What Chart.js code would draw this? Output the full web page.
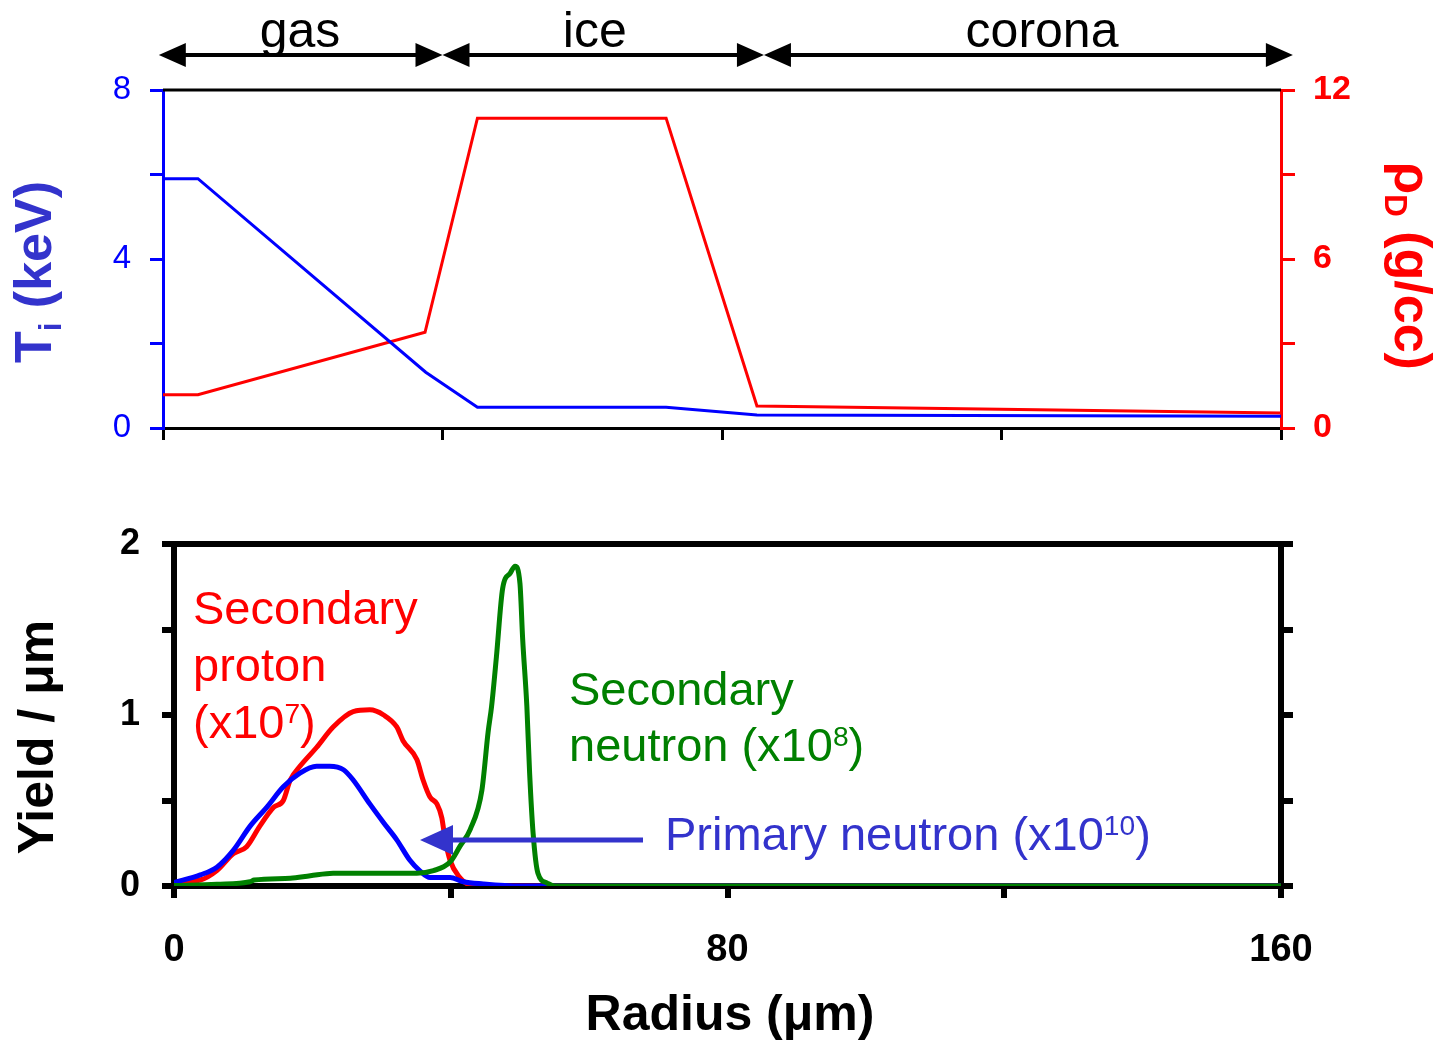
<!DOCTYPE html>
<html>
<head>
<meta charset="utf-8">
<script src="https://cdn.jsdelivr.net/npm/chart.js@4"></script>
<style>
  body { margin: 0; background: #fff; }
  #wrap { position: relative; width: 1435px; height: 1041px; }
  canvas { position: absolute; left: 0; }
</style>
</head>
<body>
<div id="wrap">
  <canvas id="profile" width="1435" height="480" style="top:0"></canvas>
  <canvas id="yield" width="1435" height="561" style="top:480px"></canvas>
</div>
<script>
// ---- top panel: ion temperature and density profiles
const radiusTi = [0, 5, 37.6, 45, 72, 85, 160];
const ionTemp = [5.9, 5.9, 1.32, 0.49, 0.49, 0.31, 0.28];
const radiusRho = [0, 5, 37.5, 45, 72, 85, 160];
const density = [1.18, 1.18, 3.4, 11.0, 11.0, 0.78, 0.53];

// regions shown above the top panel (radius, um)
const regionNames = ["gas", "ice", "corona"];
const regionBounds = [-0.6, 40, 86, 161.7];

// ---- bottom panel: yield per micron
const protonR = [0, 3.8, 6.2, 8.6, 10.5, 12.4, 14.4, 15.8, 16.8, 18.2, 20.6, 23, 25.9, 28.3, 30.3, 32.2, 33.1, 35.1, 36, 37, 38, 38.7, 39.2, 39.9, 41.3, 42.3, 44, 160];
const protonYield = [0.02, 0.035, 0.09, 0.19, 0.23, 0.35, 0.46, 0.5, 0.62, 0.70, 0.81, 0.93, 1.02, 1.03, 1.0, 0.93, 0.85, 0.74, 0.62, 0.52, 0.48, 0.40, 0.27, 0.15, 0.05, 0.015, 0, 0];

const primaryR = [0, 3.8, 6.2, 8.6, 11, 13.4, 15.8, 18.2, 20.6, 22.5, 24.5, 25.9, 28.3, 30.3, 32.2, 34.1, 35.5, 37, 39.9, 41.8, 44.7, 50, 160];
const primaryYield = [0.02, 0.065, 0.11, 0.21, 0.35, 0.46, 0.58, 0.66, 0.70, 0.70, 0.68, 0.62, 0.48, 0.37, 0.27, 0.15, 0.09, 0.05, 0.05, 0.025, 0.012, 0, 0];

const secNeutronR = [0, 6.2, 11, 11.6, 16.8, 19.7, 23, 35.1, 37.5, 39.9, 41.3, 42.8, 44.5, 45.4, 45.9, 46.6, 47.5, 48.6, 49.3, 50, 50.4, 51, 51.4, 51.9, 52.6, 53.9, 55, 160];
const secNeutronYield = [0.003, 0.01, 0.025, 0.035, 0.045, 0.06, 0.075, 0.075, 0.09, 0.14, 0.23, 0.33, 0.56, 0.90, 1.05, 1.34, 1.74, 1.83, 1.87, 1.77, 1.44, 1.05, 0.66, 0.31, 0.075, 0.018, 0, 0];

const FONT = "'Liberation Sans', Arial, sans-serif";
const TEXT_BLUE = "#3333cc";

function pts(xs, ys) {
  return xs.map((x, i) => ({ x: x, y: ys[i] }));
}

// text with sub/superscripts, parts like {t: "10", sup: true}
function richWidth(ctx, parts, size, weight) {
  let w = 0;
  parts.forEach(p => {
    ctx.font = weight + " " + ((p.sup || p.sub) ? size * 0.6 : size) + "px " + FONT;
    w += ctx.measureText(p.t).width;
  });
  return w;
}
function drawRich(ctx, parts, x, y, size, weight, color) {
  ctx.fillStyle = color;
  ctx.textAlign = "left";
  ctx.textBaseline = "alphabetic";
  let cx = x;
  parts.forEach(p => {
    const s = (p.sup || p.sub) ? size * 0.6 : size;
    ctx.font = weight + " " + s + "px " + FONT;
    const dy = p.sup ? -size * 0.32 : (p.sub ? size * 0.2 : 0);
    ctx.fillText(p.t, cx, y + dy);
    cx += ctx.measureText(p.t).width;
  });
}

function arrowHead(ctx, tipX, y, dir, len, half) {
  ctx.beginPath();
  ctx.moveTo(tipX, y);
  ctx.lineTo(tipX + dir * len, y - half);
  ctx.lineTo(tipX + dir * len, y + half);
  ctx.closePath();
  ctx.fill();
}

const profileDecor = {
  id: "profileDecor",
  afterDraw(chart) {
    const ctx = chart.ctx;
    const a = chart.chartArea;
    const xs = chart.scales.x;
    ctx.save();
    // top frame line
    ctx.strokeStyle = "#000";
    ctx.lineWidth = 3;
    ctx.beginPath();
    ctx.moveTo(a.left, a.top);
    ctx.lineTo(a.right, a.top);
    ctx.stroke();

    // region arrows
    const ay = 55;
    ctx.fillStyle = "#000";
    ctx.lineWidth = 4;
    for (let i = 0; i < regionNames.length; i++) {
      const x1 = xs.getPixelForValue(regionBounds[i]);
      const x2 = xs.getPixelForValue(regionBounds[i + 1]);
      ctx.beginPath();
      ctx.moveTo(x1 + 20, ay);
      ctx.lineTo(x2 - 20, ay);
      ctx.stroke();
      arrowHead(ctx, x1, ay, 1, 27, 12);
      arrowHead(ctx, x2, ay, -1, 27, 12);
    }
    ctx.font = "50px " + FONT;
    ctx.textAlign = "center";
    ctx.textBaseline = "alphabetic";
    const labelAt = [19.6, 61.8, 125.8];
    regionNames.forEach((n, i) => ctx.fillText(n, xs.getPixelForValue(labelAt[i]), 47));

    // left title: Ti (keV)
    const ti = [{ t: "T" }, { t: "i", sub: true }, { t: " (keV)" }];
    ctx.save();
    ctx.translate(51, 272);
    ctx.rotate(-Math.PI / 2);
    drawRich(ctx, ti, -richWidth(ctx, ti, 52, "bold") / 2, 0, 52, "bold", TEXT_BLUE);
    ctx.restore();

    // right title: rhoD (g/cc)
    const rho = [{ t: "\u03c1" }, { t: "D", sub: true }, { t: " (g/cc)" }];
    ctx.save();
    ctx.translate(1395, 266);
    ctx.rotate(Math.PI / 2);
    drawRich(ctx, rho, -richWidth(ctx, rho, 52, "bold") / 2, 0, 52, "bold", "#ff0000");
    ctx.restore();
    ctx.restore();
  }
};

new Chart(document.getElementById("profile"), {
  type: "line",
  data: {
    datasets: [
      { data: pts(radiusTi, ionTemp), yAxisID: "yL", borderColor: "#0000ff", borderWidth: 3, pointRadius: 0, tension: 0 },
      { data: pts(radiusRho, density), yAxisID: "yR", borderColor: "#ff0000", borderWidth: 3, pointRadius: 0, tension: 0 }
    ]
  },
  options: {
    responsive: false,
    animation: false,
    layout: { padding: { top: 90, left: 0, right: 0, bottom: 22 } },
    plugins: { legend: { display: false }, tooltip: { enabled: false } },
    scales: {
      x: {
        type: "linear", min: 0, max: 160,
        ticks: { stepSize: 40, callback: () => "" },
        grid: { drawOnChartArea: false, color: "#000", lineWidth: 3, tickLength: 12 },
        border: { color: "#000", width: 3 },
        afterFit: s => { s.height = 30; }
      },
      yL: {
        position: "left", min: 0, max: 8,
        ticks: { stepSize: 2, padding: 19, color: "#0000ff", font: { family: FONT, size: 33 },
                 callback: v => (v % 4 === 0 ? v : "") },
        grid: { drawOnChartArea: false, color: "#0000ff", lineWidth: 3, tickLength: 13 },
        border: { color: "#0000ff", width: 3 },
        afterFit: s => { s.width = 163; }
      },
      yR: {
        position: "right", min: 0, max: 12,
        ticks: { stepSize: 3, padding: 18, color: "#ff0000", font: { family: FONT, size: 34, weight: "bold" },
                 callback: v => (v % 6 === 0 ? v : "") },
        grid: { drawOnChartArea: false, color: "#ff0000", lineWidth: 3, tickLength: 14 },
        border: { color: "#ff0000", width: 3 },
        afterFit: s => { s.width = 154; }
      }
    }
  },
  plugins: [profileDecor]
});

const yieldDecor = {
  id: "yieldDecor",
  afterDraw(chart) {
    const ctx = chart.ctx;
    const a = chart.chartArea;
    ctx.save();
    ctx.strokeStyle = "#000";
    ctx.lineWidth = 6;
    ctx.beginPath();
    ctx.moveTo(a.left - 3, a.top);
    ctx.lineTo(a.right + 3, a.top);
    ctx.stroke();

    // curve labels
    drawRich(ctx, [{ t: "Secondary" }], 193, 144, 47, "normal", "#ff0000");
    drawRich(ctx, [{ t: "proton" }], 193, 201, 47, "normal", "#ff0000");
    drawRich(ctx, [{ t: "(x10" }, { t: "7", sup: true }, { t: ")" }], 193, 258, 47, "normal", "#ff0000");
    drawRich(ctx, [{ t: "Secondary" }], 569, 225, 47, "normal", "#008000");
    drawRich(ctx, [{ t: "neutron (x10" }, { t: "8", sup: true }, { t: ")" }], 569, 281, 47, "normal", "#008000");
    drawRich(ctx, [{ t: "Primary neutron (x10" }, { t: "10", sup: true }, { t: ")" }], 665, 370, 47, "normal", TEXT_BLUE);

    // arrow pointing at the primary neutron curve
    ctx.strokeStyle = TEXT_BLUE;
    ctx.fillStyle = TEXT_BLUE;
    ctx.lineWidth = 5;
    ctx.beginPath();
    ctx.moveTo(643, 360);
    ctx.lineTo(445, 360);
    ctx.stroke();
    arrowHead(ctx, 420, 360, 1, 33, 15);

    // axis titles
    ctx.fillStyle = "#000";
    ctx.font = "bold 50px " + FONT;
    ctx.textAlign = "center";
    ctx.textBaseline = "alphabetic";
    ctx.fillText("Radius (\u03bcm)", 730, 550);
    ctx.save();
    ctx.translate(53, 257);
    ctx.rotate(-Math.PI / 2);
    ctx.fillText("Yield / \u03bcm", 0, 0);
    ctx.restore();
    ctx.restore();
  }
};

new Chart(document.getElementById("yield"), {
  type: "line",
  data: {
    datasets: [
      { data: pts(secNeutronR, secNeutronYield), borderColor: "#008000", borderWidth: 5, pointRadius: 0, cubicInterpolationMode: "monotone" },
      { data: pts(primaryR, primaryYield), borderColor: "#0000ff", borderWidth: 5, pointRadius: 0, cubicInterpolationMode: "monotone" },
      { data: pts(protonR, protonYield), borderColor: "#ff0000", borderWidth: 5, pointRadius: 0, cubicInterpolationMode: "monotone" }
    ]
  },
  options: {
    responsive: false,
    animation: false,
    layout: { padding: { top: 64, left: 0, right: 0, bottom: 75 } },
    plugins: { legend: { display: false }, tooltip: { enabled: false } },
    scales: {
      x: {
        type: "linear", min: 0, max: 160,
        ticks: { stepSize: 40, padding: 30, color: "#000", font: { family: FONT, size: 38, weight: "bold" },
                 callback: v => (v % 80 === 0 ? v : "") },
        grid: { drawOnChartArea: false, color: "#000", lineWidth: 6, tickLength: 12 },
        border: { color: "#000", width: 6 },
        afterFit: s => { s.height = 80; }
      },
      y: {
        position: "left", min: 0, max: 2,
        ticks: { stepSize: 0.5, padding: 22, color: "#000", font: { family: FONT, size: 36, weight: "bold" },
                 callback: v => (Number.isInteger(v) ? v : "") },
        grid: { drawOnChartArea: false, color: "#000", lineWidth: 6, tickLength: 12 },
        border: { color: "#000", width: 6 },
        afterFit: s => { s.width = 174; }
      },
      y2: {
        position: "right", min: 0, max: 2,
        ticks: { stepSize: 0.5, callback: () => "" },
        grid: { drawOnChartArea: false, color: "#000", lineWidth: 6, tickLength: 12 },
        border: { color: "#000", width: 6 },
        afterFit: s => { s.width = 154; }
      }
    }
  },
  plugins: [yieldDecor]
});
</script>
</body>
</html>
